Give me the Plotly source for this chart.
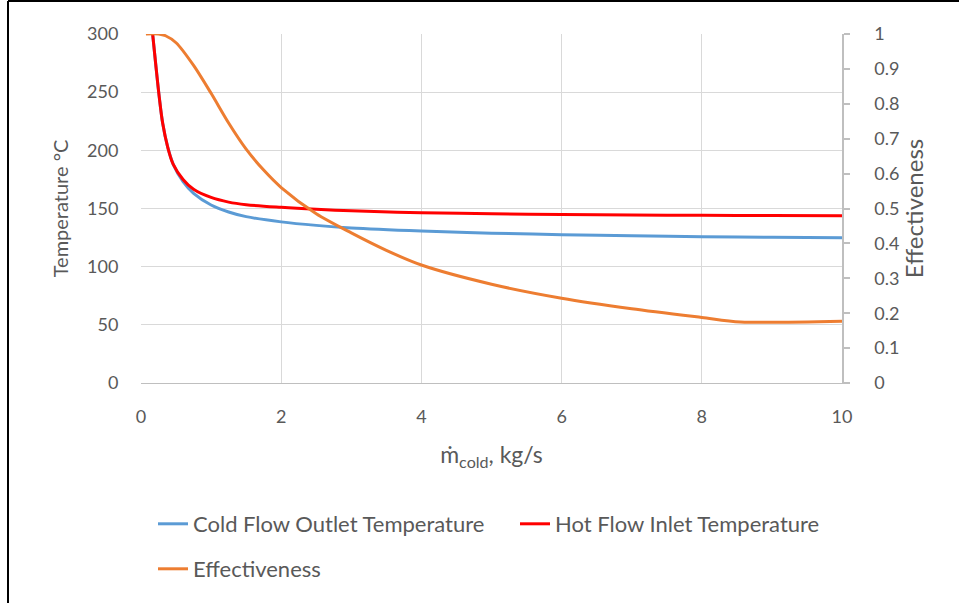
import plotly.graph_objects as go

# ---- data ----
hot_x = [0.166, 0.21, 0.26, 0.31, 0.38, 0.46, 0.6, 0.75, 1.0, 1.25, 1.5, 2.0, 2.5, 3.0, 4.0, 5.0, 6.0, 7.0, 8.0, 9.0, 10.0]
hot_t = [300, 274, 246, 223, 203, 188, 175, 166.5, 159.5, 155.5, 153.3, 151, 149.3, 148, 146.4, 145.5, 144.8, 144.4, 144.1, 143.9, 143.7]

cold_x = [0.166, 0.21, 0.26, 0.31, 0.38, 0.46, 0.6, 0.75, 1.0, 1.25, 1.5, 2.0, 2.5, 3.0, 4.0, 5.0, 6.0, 7.0, 8.0, 9.0, 10.0]
cold_t = [300, 274, 246, 223, 203, 188, 173, 163, 153, 147, 143, 138.5, 135.5, 133.3, 130.7, 128.8, 127.5, 126.6, 125.8, 125.3, 124.9]

eff_x = [0.07, 0.25, 0.35, 0.5, 0.75, 1.0, 1.25, 1.5, 1.75, 2.0, 2.5, 3.0, 3.5, 4.0, 5.0, 6.0, 7.0, 8.0, 8.55, 10.0]
eff_v = [1.0, 1.0, 0.995, 0.975, 0.91, 0.83, 0.745, 0.67, 0.61, 0.56, 0.485, 0.43, 0.38, 0.338, 0.283, 0.243, 0.213, 0.188, 0.175, 0.177]

x_ticks = [0, 2, 4, 6, 8, 10]
y_ticks = [0, 50, 100, 150, 200, 250, 300]
y2_ticks = [0, 0.1, 0.2, 0.3, 0.4, 0.5, 0.6, 0.7, 0.8, 0.9, 1]
y2_labels = ["0", "0.1", "0.2", "0.3", "0.4", "0.5", "0.6", "0.7", "0.8", "0.9", "1"]

FONT = "Lato"
TXT = "#595959"
GRID = "#d9d9d9"
AXL = "#bfbfbf"
FS_TICK = 18
FS_LEG = 22

px0, px1 = 141, 842
py0, py1 = 383, 34
W, H = 959, 603

def paper_x(p):
    return (p - px0) / (px1 - px0)

def paper_y(p):
    return (py0 - p) / (py0 - py1)

fig = go.Figure()
fig.add_trace(go.Scatter(x=cold_x, y=cold_t, mode="lines", name="Cold Flow Outlet Temperature",
                         line=dict(color="#5B9BD5", width=3, shape="spline", smoothing=1.0),
                         legend="legend"))
fig.add_trace(go.Scatter(x=hot_x, y=hot_t, mode="lines", name="Hot Flow Inlet Temperature",
                         line=dict(color="#FF0000", width=3, shape="spline", smoothing=1.0),
                         legend="legend2"))
fig.add_trace(go.Scatter(x=eff_x, y=eff_v, mode="lines", name="Effectiveness", yaxis="y2",
                         line=dict(color="#ED7D31", width=3, shape="spline", smoothing=0.8),
                         legend="legend3"))

leg_common = dict(orientation="h", xanchor="left", yanchor="middle",
                  font=dict(family=FONT, size=FS_LEG, color=TXT), bgcolor="rgba(0,0,0,0)")

fig.update_layout(
    width=W, height=H,
    margin=dict(l=px0, r=W - px1, t=py1, b=H - py0),
    paper_bgcolor="white", plot_bgcolor="white",
    font=dict(family=FONT, size=FS_TICK, color=TXT),
    showlegend=True,
    xaxis=dict(range=[0, 10], tickvals=x_ticks, showgrid=True, gridcolor=GRID, gridwidth=1.3,
               showline=True, linecolor=AXL, linewidth=1.3, zeroline=False,
               ticks="outside", ticklen=0, tickcolor=AXL, ticklabelstandoff=17,
               title=dict(text="ṁ<sub>cold</sub>, kg/s", standoff=21, font=dict(size=23))),
    yaxis=dict(range=[0, 300], tickvals=y_ticks, showgrid=True, gridcolor=GRID, gridwidth=1.3,
               showline=False, zeroline=False, ticks="outside", ticklen=0, ticklabelstandoff=18,
               title=dict(text="Temperature °C", standoff=13, font=dict(size=20))),
    yaxis2=dict(range=[0, 1], tickvals=y2_ticks, ticktext=y2_labels, overlaying="y", side="right",
                showgrid=False, zeroline=False, showline=True, linecolor=AXL, linewidth=1.5,
                ticks="outside", ticklen=6, tickcolor=AXL, tickwidth=1.5, ticklabelstandoff=21,
                title=dict(text="Effectiveness", standoff=0, font=dict(size=24))),
    legend=dict(x=paper_x(153), y=paper_y(524), **leg_common),
    legend2=dict(x=paper_x(515), y=paper_y(524), **leg_common),
    legend3=dict(x=paper_x(153), y=paper_y(569), **leg_common),
    shapes=[
        dict(type="line", xref="paper", yref="paper", x0=paper_x(8), x1=paper_x(1000),
             y0=paper_y(1), y1=paper_y(1), line=dict(color="black", width=2)),
        dict(type="line", xref="paper", yref="paper", x0=paper_x(8), x1=paper_x(8),
             y0=paper_y(1), y1=paper_y(700), line=dict(color="black", width=2)),
    ],
)

fig.write_html("out.html", config={"displayModeBar": False},
               post_script="document.body.style.margin='0px';")
